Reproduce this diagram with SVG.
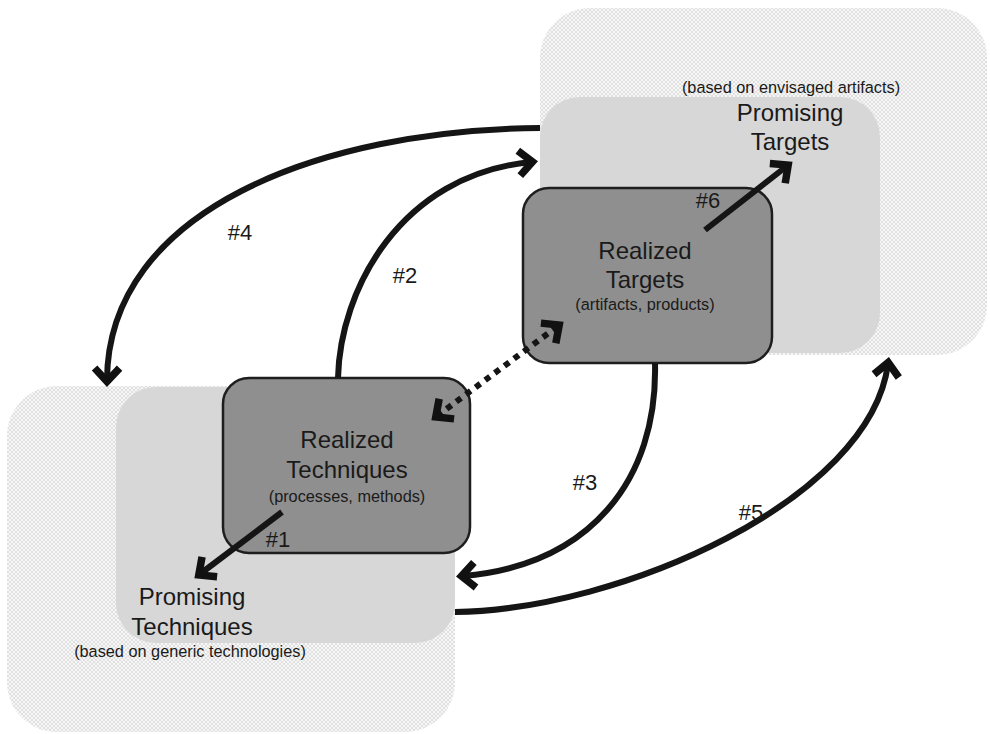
<svg xmlns="http://www.w3.org/2000/svg" width="990" height="734" viewBox="0 0 990 734">
<defs>
<pattern id="hatch" width="4" height="4" patternUnits="userSpaceOnUse">
<rect width="4" height="4" fill="#f7f7f7"/>
<path d="M0,0 L4,4 M4,0 L0,4" stroke="#dadada" stroke-width="0.8"/>
</pattern>
<marker id="arr" viewBox="-22 -18 32 36" markerWidth="32" markerHeight="36" refX="0" refY="0" orient="auto-start-reverse" markerUnits="userSpaceOnUse">
<path d="M -12 -12.5 L 1.5 0 L -12 12.5" fill="none" stroke="#111" stroke-width="7.5" stroke-linejoin="miter" stroke-miterlimit="10"/>
</marker>
</defs>
<style>
.outer{fill:url(#hatch);}
.inner{fill:#d7d7d7;}
.real{fill:#8f8f8f;stroke:#1e1e1e;stroke-width:2.5;}
text{font-family:"Liberation Sans",Arial,sans-serif;fill:#1a1a1a;text-anchor:middle;}
.big{font-size:24px;}
.small{font-size:16.3px;}
.lbl{font-size:22px;}
.con{fill:none;stroke:#151515;stroke-width:6;}
.dot{fill:none;stroke:#151515;stroke-width:6;stroke-dasharray:6 6;}
</style>
<rect width="990" height="734" fill="#ffffff"/>
<g id="promising-targets">
<rect class="outer" x="540" y="8" width="447" height="347" rx="50"/>
<rect class="inner" x="540" y="97" width="340" height="256" rx="40"/>
<text class="small" x="791" y="93">(based on envisaged artifacts)</text>
<text class="big" x="790" y="121">Promising</text>
<text class="big" x="790" y="150">Targets</text>
</g>
<g id="promising-techniques">
<rect class="outer" x="7" y="386" width="448" height="346" rx="50"/>
<rect class="inner" x="116" y="387" width="339" height="256" rx="40"/>
<text class="big" x="192" y="605">Promising</text>
<text class="big" x="192" y="635">Techniques</text>
<text class="small" x="190" y="657">(based on generic technologies)</text>
</g>
<g id="realized-targets">
<rect class="real" x="523" y="188" width="249" height="175" rx="26"/>
<text class="big" x="645" y="259">Realized</text>
<text class="big" x="645" y="288">Targets</text>
<text class="small" x="645" y="310">(artifacts, products)</text>
</g>
<g id="realized-techniques">
<rect class="real" x="223" y="378" width="247" height="175" rx="26"/>
<text class="big" x="347" y="448">Realized</text>
<text class="big" x="347" y="478">Techniques</text>
<text class="small" x="347" y="502">(processes, methods)</text>
</g>
<g id="connectors">
<path class="con" d="M 282 512 L 200 574" marker-end="url(#arr)"/>
<path class="con" d="M 338 378 C 340 290 400 175 531 162" marker-end="url(#arr)"/>
<path class="con" d="M 655 363 C 658 480 590 565 463 576" marker-end="url(#arr)"/>
<path class="con" d="M 540 128 C 320 130 108 210 107 380" marker-end="url(#arr)"/>
<path class="con" d="M 455 612 C 620 610 870 500 888 364" marker-end="url(#arr)"/>
<path class="con" d="M 705 230 L 787 166" marker-end="url(#arr)"/>
<path class="dot" d="M 437 416 L 558 326" marker-start="url(#arr)" marker-end="url(#arr)"/>
<text class="lbl" x="278" y="547">#1</text>
<text class="lbl" x="405" y="283">#2</text>
<text class="lbl" x="585" y="490">#3</text>
<text class="lbl" x="240" y="240">#4</text>
<text class="lbl" x="751" y="520">#5</text>
<text class="lbl" x="708" y="208">#6</text>
</g>
</svg>
